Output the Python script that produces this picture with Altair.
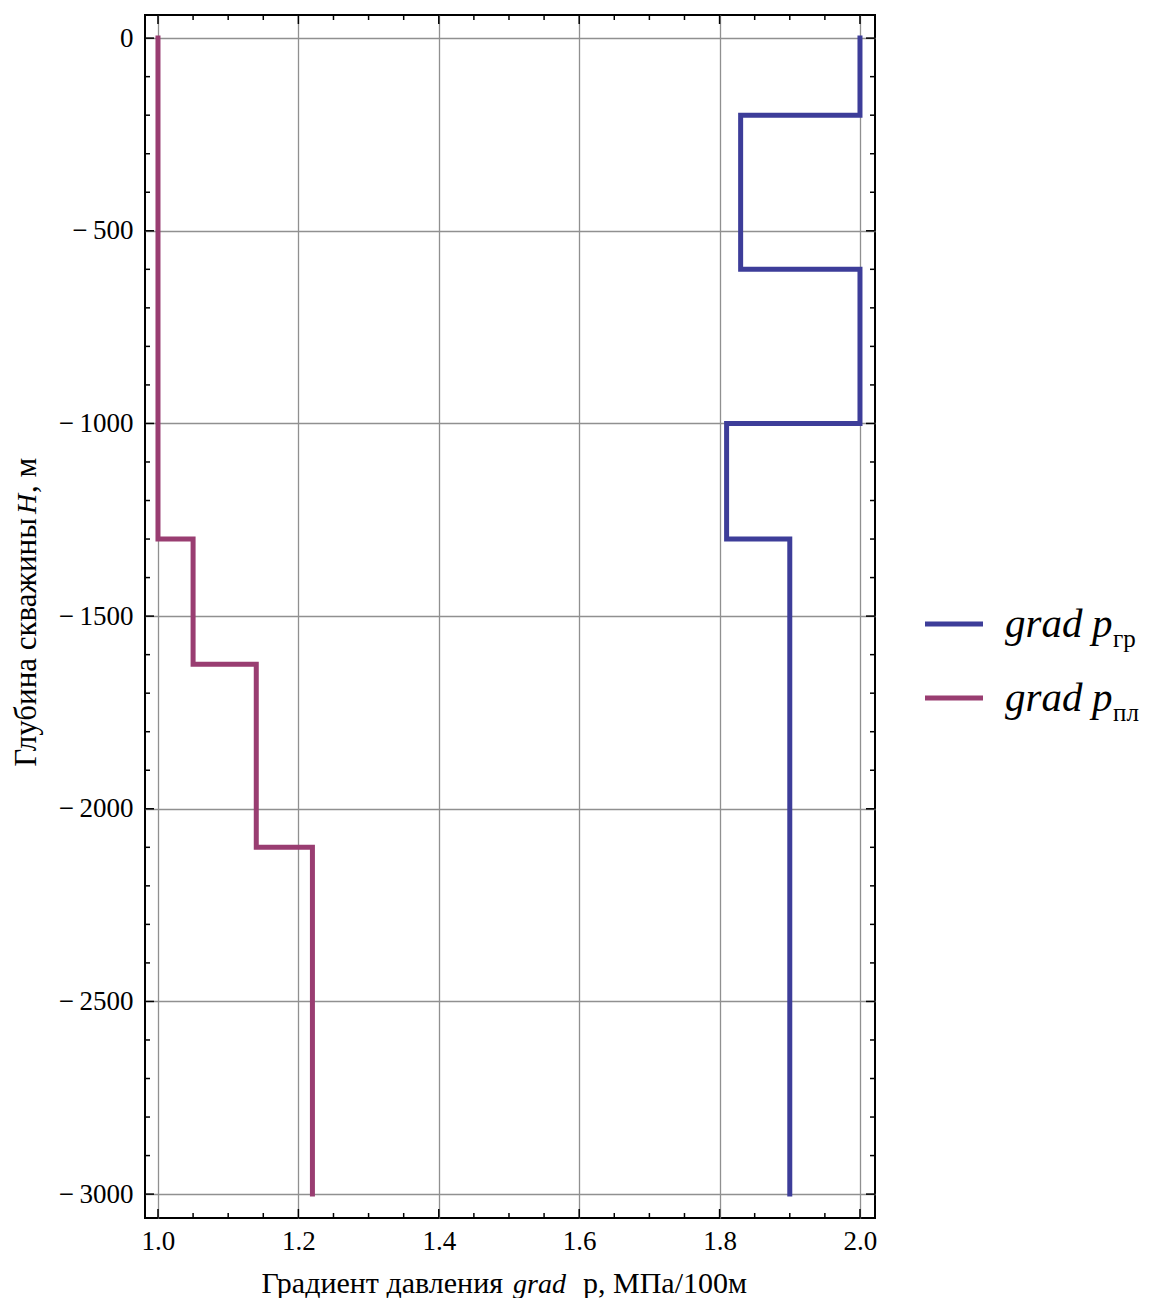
import altair as alt
import pandas as pd

# ---- data ----
gr_depths = [0, -200, -600, -1000, -1300, -3000]
gr_values = [2.0, 1.83, 2.0, 1.81, 1.90]
pl_depths = [0, -1300, -1625, -2100, -3000]
pl_values = [1.0, 1.05, 1.14, 1.22]

x_major = [1.0, 1.2, 1.4, 1.6, 1.8, 2.0]
x_minor = [1.05, 1.1, 1.15, 1.25, 1.3, 1.35, 1.45, 1.5, 1.55, 1.65, 1.7, 1.75,
           1.85, 1.9, 1.95]
y_major = [0, -500, -1000, -1500, -2000, -2500, -3000]
y_minor = [-100, -200, -300, -400, -600, -700, -800, -900, -1100, -1200, -1300,
           -1400, -1600, -1700, -1800, -1900, -2100, -2200, -2300, -2400,
           -2600, -2700, -2800, -2900]

BLUE = "#3D3D99"
PURPLE = "#993D71"
W, H = 730, 1203
XDOM = [0.9815, 2.0214]
YDOM = [-3062, 60]
SERIF = "Liberation Serif"


def steps(depths, values, name):
    rows = []
    k = 0
    for i, v in enumerate(values):
        rows.append({"x": v, "y": depths[i], "o": k, "s": name}); k += 1
        rows.append({"x": v, "y": depths[i + 1], "o": k, "s": name}); k += 1
    return rows


gr_df = pd.DataFrame(steps(gr_depths, gr_values, "gr"))
pl_df = pd.DataFrame(steps(pl_depths, pl_values, "pl"))

xs = alt.Scale(domain=XDOM, nice=False, zero=False)
ys = alt.Scale(domain=YDOM, nice=False, zero=False)

ylabel = "datum.value < 0 ? '\u2212\u2009' + format(-datum.value, 'd') : '0'"

AX = alt.Axis(values=x_major, format=".1f", grid=True, ticks=False,
              domain=False, title=None, labelFont=SERIF,
              labelFontSize=27, labelColor="#000", labelPadding=10,
              gridColor="#909090", gridWidth=1.3, labelFlush=False)
AY = alt.Axis(values=y_major, labelExpr=ylabel, grid=True, ticks=False,
              domain=False, title=None, labelFont=SERIF,
              labelFontSize=27, labelColor="#000", labelPadding=12,
              gridColor="#909090", gridWidth=1.3, labelFlush=False)


def line_layer(df, color):
    return alt.Chart(df).mark_line(color=color, strokeWidth=5,
                                   strokeCap="square", strokeJoin="miter").encode(
        x=alt.X("x:Q", scale=xs, axis=AX),
        y=alt.Y("y:Q", scale=ys, axis=AY),
        order="o:Q",
    )


layers = [line_layer(gr_df, BLUE), line_layer(pl_df, PURPLE)]


def xticks(vals, L):
    df = pd.DataFrame({"x": vals})
    b = alt.Chart(df).mark_rule(color="black", strokeWidth=1.5)
    enc_x = alt.X("x:Q", scale=xs, axis=AX)
    return [
        b.encode(x=enc_x, y=alt.value(H), y2=alt.value(H - L)),
        b.encode(x=enc_x, y=alt.value(0), y2=alt.value(L)),
    ]


def yticks(vals, L):
    df = pd.DataFrame({"y": vals})
    b = alt.Chart(df).mark_rule(color="black", strokeWidth=1.5)
    enc_y = alt.Y("y:Q", scale=ys, axis=AY)
    return [
        b.encode(y=enc_y, x=alt.value(0), x2=alt.value(L)),
        b.encode(y=enc_y, x=alt.value(W), x2=alt.value(W - L)),
    ]


layers += xticks(x_major, 9) + xticks(x_minor, 5)
layers += yticks(y_major, 9) + yticks(y_minor, 5)


def txt(s, x, y, size, style="normal", align="left", angle=0):
    return alt.Chart(pd.DataFrame({"t": [s]})).mark_text(
        font=SERIF, fontSize=size, fontStyle=style, align=align,
        baseline="alphabetic", angle=angle, color="black").encode(
        x=alt.value(x), y=alt.value(y), text="t:N")


# x-axis title
layers += [
    txt("Градиент давления", 358, 1278, 30, align="right"),
    txt("grad", 368, 1278, 28, style="italic"),
    txt("p, МПа/100м", 438, 1278, 30),
]
# y-axis title (rotated)
layers += [
    txt("Глубина скважины", -109, 503, 31, align="right", angle=270),
    txt("H", -109, 499, 28, style="italic", angle=270),
    txt(", м", -109, 478, 31, angle=270),
]

# legend
leg_lines = pd.DataFrame({"s": ["gr"]})
for yy, col, sub in [(609, BLUE, "гр"), (683, PURPLE, "пл")]:
    layers.append(alt.Chart(leg_lines).mark_rule(
        color=col, strokeWidth=5).encode(
        x=alt.value(780), x2=alt.value(838), y=alt.value(yy)))
    layers += [
        txt("grad", 860, yy + 13, 41, style="italic"),
        txt("p", 947, yy + 13, 41, style="italic"),
        txt(sub, 968, yy + 23, 25),
    ]

chart = alt.layer(*layers).properties(
    width=W, height=H, autosize="none",
    padding={"left": 137, "top": 7, "right": 270, "bottom": 80},
).configure_view(stroke="black", strokeWidth=2)

chart.save("out.html", embed_options={"renderer": "svg", "actions": False})
